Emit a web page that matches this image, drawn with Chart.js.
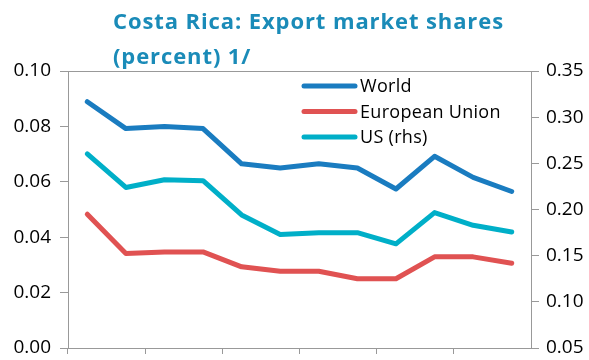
<!DOCTYPE html>
<html>
<head>
    <title>Costa Rica: Export market shares</title>
    <script src="https://cdn.jsdelivr.net/npm/chart.js"></script>
    <style>
        body { margin: 0; background: #fff; }
        #wrap { width: 589px; height: 360px; }
    </style>
</head>
<body>
    <div id="wrap"><canvas id="myChart" width="589" height="360"></canvas></div>
    <script>
        // Series (period labels are not printed on the axis)
        const years = ['2000', '2001', '2002', '2003', '2004', '2005', '2006', '2007', '2008', '2009', '2010', '2011'];
        const world = [0.0889, 0.0792, 0.0800, 0.0792, 0.0665, 0.0650, 0.0665, 0.0650, 0.0574, 0.0692, 0.0616, 0.0565];
        const eu    = [0.0483, 0.0341, 0.0347, 0.0347, 0.0293, 0.0277, 0.0277, 0.0250, 0.0250, 0.0329, 0.0329, 0.0306];
        const us    = [0.2603, 0.2239, 0.2323, 0.2312, 0.1941, 0.1730, 0.1749, 0.1749, 0.1628, 0.1966, 0.1829, 0.1756];

        const titleLines = ['Costa Rica: Export market shares', '(percent) 1/'];
        const FONT = '"Open Sans", sans-serif';
        const AXIS = '#999999';

        // Title, left aligned over the plot
        const titlePlugin = {
            id: 'leftTitle',
            afterDraw(chart) {
                const c = chart.ctx;
                c.save();
                c.fillStyle = '#1a8bb8';
                c.font = 'bold 22px ' + FONT;
                c.letterSpacing = '0.9px';
                c.textBaseline = 'alphabetic';
                c.fillText(titleLines[0], 113, 29);
                c.fillText(titleLines[1], 113, 64);
                c.restore();
            }
        };

        // Legend drawn inside the plot area
        const legendPlugin = {
            id: 'innerLegend',
            afterDraw(chart) {
                const c = chart.ctx;
                c.save();
                c.font = '18px ' + FONT;
                c.letterSpacing = '0.3px';
                c.textBaseline = 'middle';
                chart.data.datasets.forEach((ds, i) => {
                    const y = 86 + i * 25.5;
                    c.strokeStyle = ds.borderColor;
                    c.lineWidth = 5;
                    c.lineCap = 'round';
                    c.beginPath();
                    c.moveTo(304, y);
                    c.lineTo(355, y);
                    c.stroke();
                    c.fillStyle = '#000';
                    c.fillText(ds.label, 360, y + 1);
                });
                c.restore();
            }
        };

        // Top frame line
        const framePlugin = {
            id: 'frame',
            beforeDatasetsDraw(chart) {
                const a = chart.chartArea;
                const c = chart.ctx;
                c.save();
                c.strokeStyle = AXIS;
                c.lineWidth = 1;
                c.beginPath();
                c.moveTo(a.left - 8, a.top + 0.5);
                c.lineTo(a.right, a.top + 0.5);
                c.stroke();
                c.restore();
            }
        };

        const tickFont = { family: FONT, size: 19 };

        const ctx = document.getElementById('myChart').getContext('2d');
        new Chart(ctx, {
            type: 'line',
            data: {
                labels: years,
                datasets: [
                    { label: 'World', data: world, borderColor: '#1a7cc0', yAxisID: 'y' },
                    { label: 'European Union', data: eu, borderColor: '#e05252', yAxisID: 'y' },
                    { label: 'US (rhs)', data: us, borderColor: '#00afc8', yAxisID: 'y1' }
                ]
            },
            options: {
                responsive: false,
                animation: false,
                layout: { padding: { top: 71, left: 0, right: 0, bottom: 0 } },
                elements: {
                    line: { borderWidth: 5, tension: 0, borderJoinStyle: 'round', borderCapStyle: 'round' },
                    point: { radius: 0 }
                },
                plugins: {
                    legend: { display: false },
                    title: { display: false },
                    tooltip: { enabled: false }
                },
                scales: {
                    x: {
                        offset: true,
                        grid: {
                            offset: true,
                            drawOnChartArea: false,
                            tickLength: 6,
                            color: c => (c.index % 2 === 0 ? AXIS : 'rgba(0,0,0,0)')
                        },
                        border: { color: AXIS },
                        ticks: { display: false },
                        afterFit: s => { s.height = 12; }
                    },
                    y: {
                        position: 'left',
                        min: 0,
                        max: 0.10,
                        ticks: {
                            stepSize: 0.02,
                            color: '#000',
                            font: tickFont,
                            padding: 9,
                            callback: v => v.toFixed(2)
                        },
                        grid: { drawOnChartArea: false, tickLength: 8, color: AXIS },
                        border: { color: AXIS },
                        afterFit: s => { s.width = 68; s.paddingTop = 0; s.paddingBottom = 0; }
                    },
                    y1: {
                        position: 'right',
                        min: 0.05,
                        max: 0.35,
                        ticks: {
                            stepSize: 0.05,
                            color: '#000',
                            font: tickFont,
                            padding: 7,
                            callback: v => v.toFixed(2)
                        },
                        grid: { drawOnChartArea: false, tickLength: 8, color: AXIS },
                        border: { color: AXIS },
                        afterFit: s => { s.width = 58; s.paddingTop = 0; s.paddingBottom = 0; }
                    }
                }
            },
            plugins: [titlePlugin, legendPlugin, framePlugin]
        });
    </script>
</body>
</html>
